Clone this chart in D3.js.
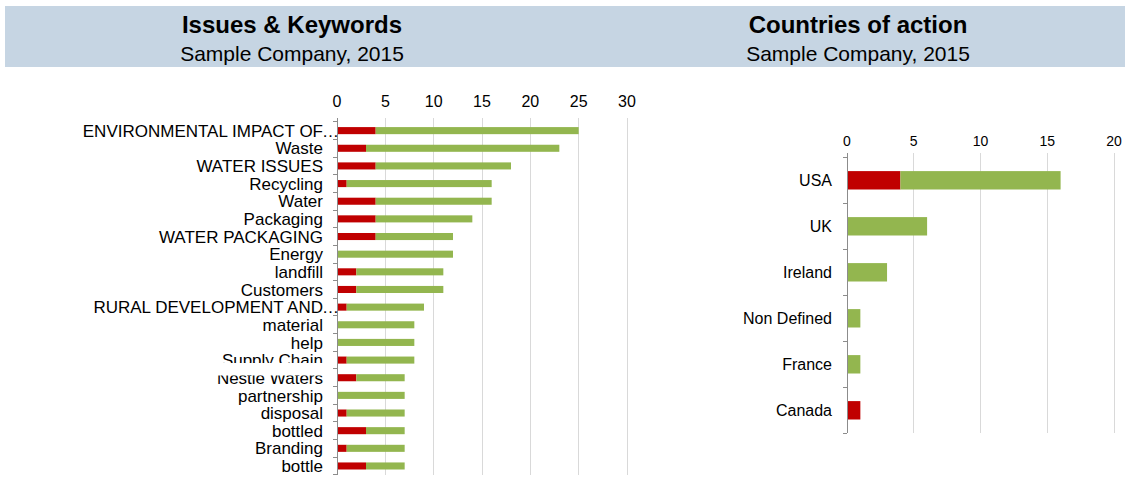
<!DOCTYPE html>
<html>
<head>
<meta charset="utf-8">
<script src="https://cdn.jsdelivr.net/npm/d3@7"></script>
<style>
  html, body { margin: 0; padding: 0; background: #fff; }
  svg { display: block; font-family: "Liberation Sans", Arial, sans-serif; }
</style>
</head>
<body>
<svg id="chart" width="1125" height="477"></svg>
<script>
// Issues & keywords: mentions split into negative (red) and other (green)
const issueLabels = [
  "ENVIRONMENTAL IMPACT OF…", "Waste", "WATER ISSUES", "Recycling", "Water",
  "Packaging", "WATER PACKAGING", "Energy", "landfill", "Customers",
  "RURAL DEVELOPMENT AND…", "material", "help", "Supply Chain", "Nestle Waters",
  "partnership", "disposal", "bottled", "Branding", "bottle"
];
const issueNegative = [4, 3, 4, 1, 4, 4, 4, 0, 2, 2, 1, 0, 0, 1, 2, 0, 1, 3, 1, 3];
const issuePositive = [21, 20, 14, 15, 12, 10, 8, 12, 9, 9, 8, 8, 8, 7, 5, 7, 6, 4, 6, 4];
const issueTicks = [0, 5, 10, 15, 20, 25, 30];

// Countries of action
const countryLabels = ["USA", "UK", "Ireland", "Non Defined", "France", "Canada"];
const countryNegative = [4, 0, 0, 0, 0, 1];
const countryPositive = [12, 6, 3, 1, 1, 0];
const countryTicks = [0, 5, 10, 15, 20];

const titles = [
  { title: "Issues & Keywords", subtitle: "Sample Company, 2015", cx: 292 },
  { title: "Countries of action", subtitle: "Sample Company, 2015", cx: 858 }
];

const RED = "#C00000";
const GREEN = "#93B64F";
const GRID = "#D9D9D9";
const AXIS = "#8C8C8C";

const svg = d3.select("#chart");

// header band
svg.append("rect")
  .attr("x", 5).attr("y", 6).attr("width", 1120).attr("height", 61)
  .attr("fill", "#C6D5E3");

const head = svg.selectAll("g.head").data(titles).join("g").attr("class", "head");
head.append("text")
  .attr("x", d => d.cx).attr("y", 33)
  .attr("text-anchor", "middle")
  .attr("font-weight", "bold").attr("font-size", 24).attr("fill", "#000")
  .text(d => d.title);
head.append("text")
  .attr("x", d => d.cx).attr("y", 61)
  .attr("text-anchor", "middle")
  .attr("font-size", 21).attr("fill", "#000")
  .text(d => d.subtitle);

function barChart(cfg) {
  const rows = cfg.labels.map((label, i) => ({
    label, negative: cfg.negative[i], positive: cfg.positive[i]
  }));
  const x = d3.scaleLinear().domain([cfg.ticks[0], cfg.ticks[cfg.ticks.length - 1]])
    .range([cfg.x0, cfg.x1]);
  const y = d3.scaleBand().domain(cfg.labels).range([cfg.y0, cfg.y1])
    .paddingInner(0.6).paddingOuter(0.3);
  const step = y.step();
  const g = svg.append("g");

  // vertical gridlines, running up past the plot as outside tick marks
  g.append("g").selectAll("line").data(cfg.ticks).join("line")
    .attr("x1", d => x(d)).attr("x2", d => x(d))
    .attr("y1", cfg.y0 - cfg.tickOut).attr("y2", cfg.y1)
    .attr("stroke", (d, i) => i === 0 ? "none" : GRID)
    .attr("stroke-width", 1)
    .attr("shape-rendering", "crispEdges");

  // top value labels
  g.append("g").selectAll("text").data(cfg.ticks).join("text")
    .attr("x", d => x(d)).attr("y", cfg.tickY)
    .attr("text-anchor", "middle")
    .attr("font-size", cfg.tickSize).attr("fill", "#000")
    .text(d => d);

  // stacked bars
  const series = d3.stack().keys(["negative", "positive"])(rows);
  const colors = { negative: RED, positive: GREEN };
  g.append("g").selectAll("g").data(series).join("g")
    .attr("fill", s => colors[s.key])
    .selectAll("rect").data(s => s).join("rect")
    .attr("x", d => x(d[0]))
    .attr("y", d => y(d.data.label))
    .attr("width", d => Math.max(0, x(d[1]) - x(d[0])))
    .attr("height", y.bandwidth());

  // category axis line and boundary ticks
  g.append("line")
    .attr("x1", cfg.x0).attr("x2", cfg.x0)
    .attr("y1", cfg.y0 - cfg.tickOut).attr("y2", cfg.y1)
    .attr("stroke", AXIS).attr("shape-rendering", "crispEdges");
  g.append("g").selectAll("line").data(d3.range(cfg.labels.length + 1)).join("line")
    .attr("x1", cfg.x0 - 4).attr("x2", cfg.x0)
    .attr("y1", i => cfg.y0 + i * step).attr("y2", i => cfg.y0 + i * step)
    .attr("stroke", AXIS).attr("shape-rendering", "crispEdges");

  // category labels
  const lg = g.append("g");
  if (cfg.clip) lg.attr("clip-path", `url(#${cfg.clip})`);
  const lab = lg.selectAll("g").data(cfg.labels).join("g")
    .attr("transform", d => `translate(${cfg.labelX},${y(d) + y.bandwidth() / 2})`);
  lab.append("text")
    .attr("text-anchor", "end").attr("dy", "0.36em")
    .attr("font-size", cfg.labelSize).attr("fill", "#000")
    .text(d => d.endsWith("…") ? d.slice(0, -1) : d);
  lab.filter(d => d.endsWith("…")).append("text")
    .attr("text-anchor", "start").attr("dy", "0.36em").attr("x", -1)
    .attr("font-size", cfg.labelSize).attr("fill", "#000")
    .text("…");
}

// strip of the label column where two neighbouring labels collide
const defs = svg.append("defs");
const cp = defs.append("clipPath").attr("id", "issueLabelClip");
cp.append("rect").attr("x", 0).attr("y", 0).attr("width", 340).attr("height", 363);
cp.append("rect").attr("x", 0).attr("y", 375.5).attr("width", 340).attr("height", 102);

barChart({
  labels: issueLabels, negative: issueNegative, positive: issuePositive, ticks: issueTicks,
  x0: 337, x1: 627, y0: 121.8, y1: 474.8, tickOut: 4,
  tickY: 107, tickSize: 16, labelX: 323, labelSize: 17, clip: "issueLabelClip"
});

barChart({
  labels: countryLabels, negative: countryNegative, positive: countryPositive, ticks: countryTicks,
  x0: 847, x1: 1114, y0: 157.3, y1: 433.3, tickOut: 4,
  tickY: 146, tickSize: 14, labelX: 832, labelSize: 16
});
</script>
</body>
</html>
